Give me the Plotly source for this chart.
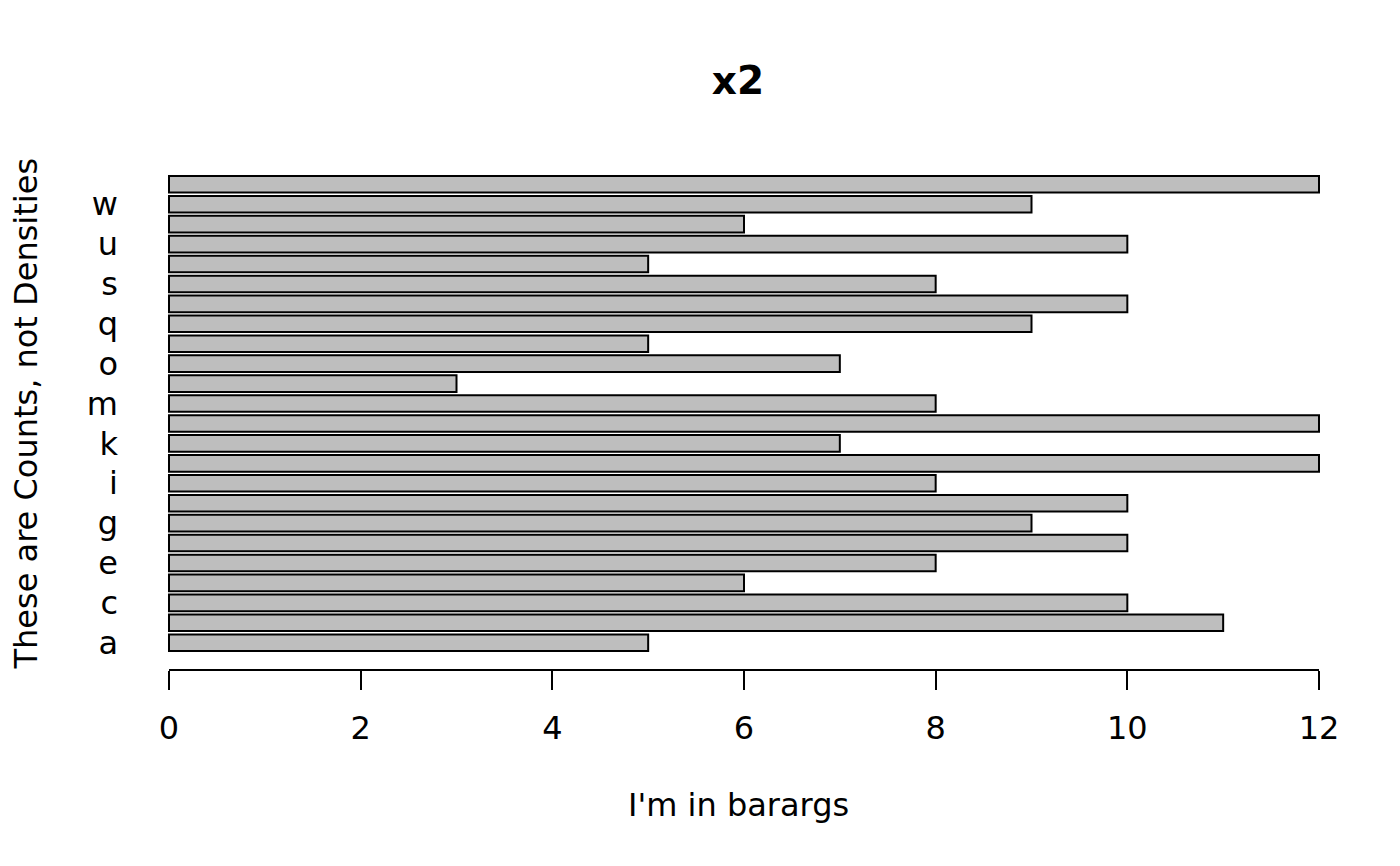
import plotly.graph_objects as go

categories = list("abcdefghijklmnopqrstuvwx")
values = [5, 11, 10, 6, 8, 10, 9, 10, 8, 12, 7, 12, 8, 3, 7, 5, 9, 10, 8, 5, 10, 6, 9, 12]
shown_labels = categories[0:23:2]
x_ticks = [0, 2, 4, 6, 8, 10, 12]

FONT = "DejaVu Sans"
W, H = 1400, 866
OFF = 8  # page body margin offset
# target plot area in screen pixels
PL, PR, PT, PB = 123, 1365, 157, 670
L = PL - OFF
T = PT - OFF
R = W - (PR - OFF)
B = H - (PB - OFF)
PW = PR - PL
PH = PB - PT
XC = 0.5 - 6 / PW  # horizontal centre of titles

fig = go.Figure(go.Bar(
    y=categories, x=values, orientation="h",
    marker=dict(color="#BEBEBE", line=dict(color="black", width=2)),
))

fig.update_layout(
    width=W, height=H,
    margin=dict(l=L, r=R, t=T, b=B),
    plot_bgcolor="white", paper_bgcolor="white",
    bargap=0.2 / 1.2,
    showlegend=False,
    font=dict(family=FONT, size=32, color="black"),
    title=dict(text="<b>x2</b>", x=XC, xref="paper", y=1 - (80 - OFF) / H, yref="container",
               yanchor="middle", xanchor="center", font=dict(family=FONT, size=39, color="black")),
)

fig.update_xaxes(
    range=[-0.48, 12.48], tickvals=x_ticks, ticks="outside", ticklen=19, tickwidth=2,
    tickcolor="black", showline=False, showgrid=False, zeroline=False,
    tickfont=dict(family=FONT, size=32), ticklabelstandoff=11,
)
fig.update_yaxes(
    type="category", categoryarray=categories, range=[-1.37, 24.37],
    tickvals=shown_labels, ticktext=shown_labels, ticks="", showline=False,
    showgrid=False, zeroline=False, tickfont=dict(family=FONT, size=32),
    ticklabelstandoff=4,
)

fig.add_shape(type="line", xref="x", yref="paper", x0=x_ticks[0], x1=x_ticks[-1],
              y0=0, y1=0, line=dict(color="black", width=2))

fig.add_annotation(text="I'm in barargs", xref="paper", yref="paper", x=XC,
                   y=-(805 - PB) / PH, yanchor="middle", xanchor="center",
                   showarrow=False, font=dict(family=FONT, size=32))
fig.add_annotation(text="These are Counts, not Densities", xref="paper", yref="paper",
                   x=-(PL - 25) / PW, y=0.5, xanchor="center", yanchor="middle",
                   textangle=-90, showarrow=False, font=dict(family=FONT, size=32))

fig.write_html("out.html")
